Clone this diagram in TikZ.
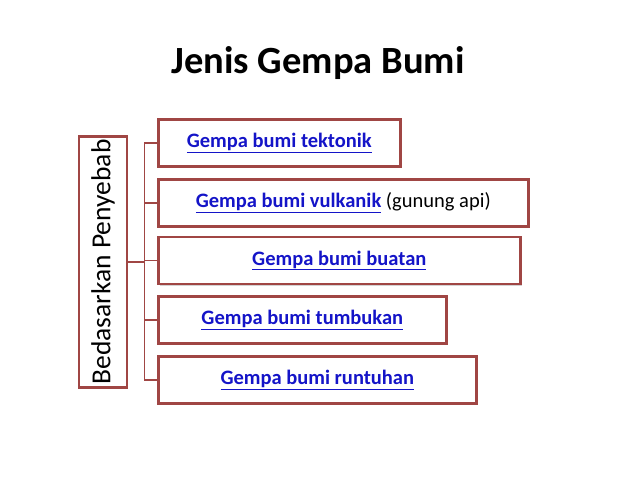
\documentclass[tikz,border=0pt]{standalone}
\usepackage{fontspec}
\setmainfont{Carlito}
\usepackage{xcolor}
\usetikzlibrary{shadows}
\definecolor{boxred}{RGB}{160,70,68}
\definecolor{linkblue}{RGB}{20,20,200}
\newcommand{\lnk}[1]{{\color{linkblue}\underline{#1}}}

\tikzset{
  jenis/.style={draw=boxred, line width=2.6pt, fill=white, anchor=west,
    minimum height=47pt, font=\fontsize{20.5}{24}\selectfont\bfseries,
    drop shadow={shadow xshift=2pt, shadow yshift=-2pt, opacity=0.35}},
  sebab/.style={draw=boxred, line width=2.6pt, fill=white, rotate=90,
    minimum width=250pt, minimum height=48pt,
    font=\fontsize{27.5}{32}\selectfont},
  cabang/.style={boxred, line width=1.4pt}
}

\begin{document}
\begin{tikzpicture}[x=1pt, y=1pt]
  \useasboundingbox (0,0) rectangle (638,479);
  % Title
  \node[font=\fontsize{38.5}{44}\selectfont\bfseries] (judul) at (318,416) {Jenis Gempa Bumi};
  % Left box
  \node[sebab] (penyebab) at (103,217) {Bedasarkan Penyebab};
  % Boxes
  \node[jenis, minimum width=242pt] (tektonik) at (157,336) {\lnk{Gempa bumi tektonik}};
  \node[jenis, minimum width=370pt] (vulkanik) at (157,276) {\lnk{Gempa bumi vulkanik} \mdseries(gunung api)};
  \node[jenis, minimum width=362pt] (buatan) at (157,218.5) {\lnk{Gempa bumi buatan}};
  \node[jenis, minimum width=288pt] (tumbukan) at (157,159) {\lnk{Gempa bumi tumbukan}};
  \node[jenis, minimum width=318pt] (runtuhan) at (157,99) {\lnk{Gempa bumi runtuhan}};
  % Connectors
  \draw[cabang] (penyebab.south) -- ++(16,0) coordinate (hub);
  \foreach \b in {tektonik,vulkanik,buatan,tumbukan,runtuhan}
    \draw[cabang] (hub) |- (\b.west);
\end{tikzpicture}
\end{document}
